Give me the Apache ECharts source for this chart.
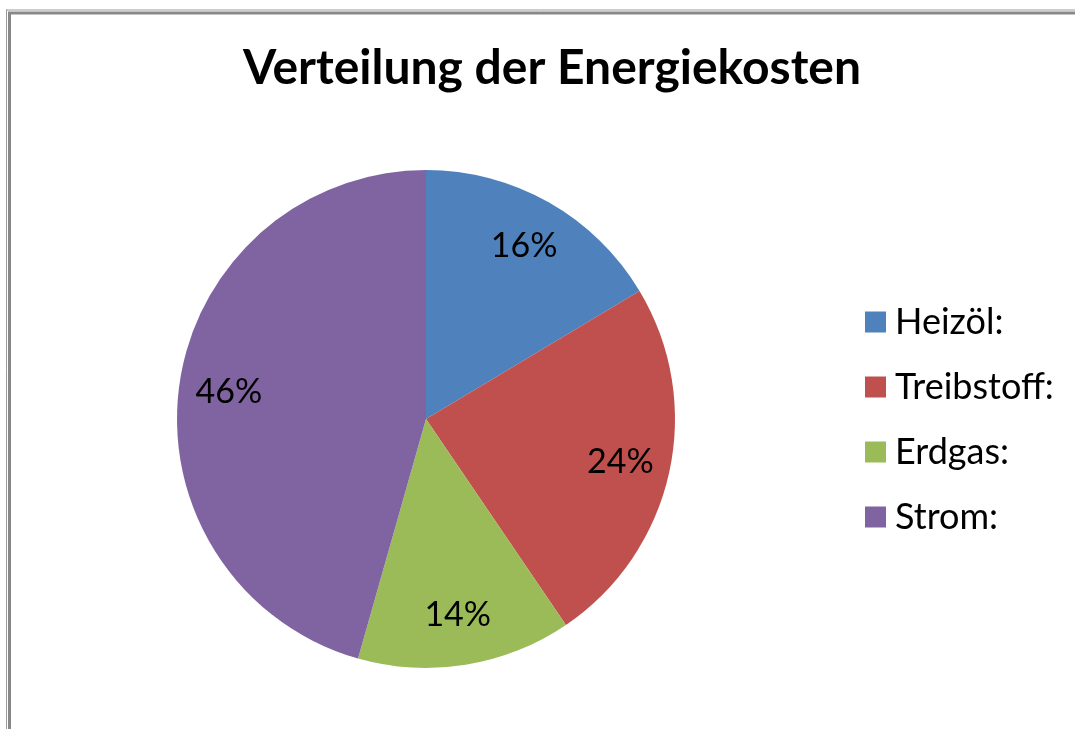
<!DOCTYPE html>
<html>
<head>
<meta charset="utf-8">
<script src="https://cdn.jsdelivr.net/npm/echarts@6/dist/echarts.min.js"></script>
<style>
html,body{margin:0;padding:0;background:#fff;}
#c{width:1075px;height:729px;}
</style>
</head>
<body>
<div id="c"></div>
<script>
const titleText = 'Verteilung der Energiekosten';
const categories = ['Heizöl:', 'Treibstoff:', 'Erdgas:', 'Strom:'];
const values = [16.4, 24.1, 13.9, 45.6];
const colors = ['#4F81BD', '#C0504D', '#9BBB59', '#8064A2'];

const FONT = 'Lato, "Open Sans", sans-serif';
const chart = echarts.init(document.getElementById('c'), null, {renderer: 'canvas'});
const mainData = categories.map((n, i) => ({name: n, value: values[i], itemStyle: {color: colors[i]}}));
const labelData = categories.map((n, i) => ({name: n, value: values[i]}));

chart.setOption({
  animation: false,
  backgroundColor: '#fff',
  title: {
    text: titleText,
    left: 547, textAlign: 'center',
    top: 40,
    textStyle: {fontFamily: FONT, fontSize: 48, fontWeight: 'bold', color: '#000'}
  },
  legend: {
    orient: 'vertical',
    left: 860, top: 299,
    itemWidth: 21, itemHeight: 21,
    itemGap: 29,
    icon: 'rect',
    data: categories,
    textStyle: {fontFamily: FONT, fontSize: 36, color: '#000', padding: [0, 0, 0, 4]},
    selectedMode: false
  },
  graphic: [
    {type: 'line', shape: {x1: 6.5, y1: 9.5, x2: 6.5, y2: 729}, style: {stroke: '#999', lineWidth: 1}, silent: true},
    {type: 'line', shape: {x1: 9.5, y1: 12, x2: 9.5, y2: 729}, style: {stroke: '#888', lineWidth: 3}, silent: true},
    {type: 'line', shape: {x1: 6, y1: 10, x2: 1075, y2: 10}, style: {stroke: '#999', lineWidth: 1}, silent: true},
    {type: 'line', shape: {x1: 8, y1: 13, x2: 1075, y2: 13}, style: {stroke: '#888', lineWidth: 3}, silent: true}
  ],
  series: [
    {
      type: 'pie',
      center: [426, 419],
      radius: [0, 249],
      startAngle: 90,
      clockwise: true,
      silent: true,
      label: {show: false},
      labelLine: {show: false},
      itemStyle: {borderWidth: 0},
      emphasis: {disabled: true},
      data: mainData
    },
    {
      type: 'pie',
      center: [426, 419],
      radius: [143, 249],
      startAngle: 90,
      clockwise: true,
      silent: true,
      legendHoverLink: false,
      itemStyle: {color: 'rgba(0,0,0,0)', borderWidth: 0},
      label: {
        show: true, position: 'inside',
        formatter: p => Math.round(p.percent) + '%',
        fontFamily: FONT, fontSize: 34, color: '#000', fontWeight: 'normal'
      },
      labelLine: {show: false},
      emphasis: {disabled: true},
      data: labelData
    }
  ]
});
</script>
</body>
</html>
